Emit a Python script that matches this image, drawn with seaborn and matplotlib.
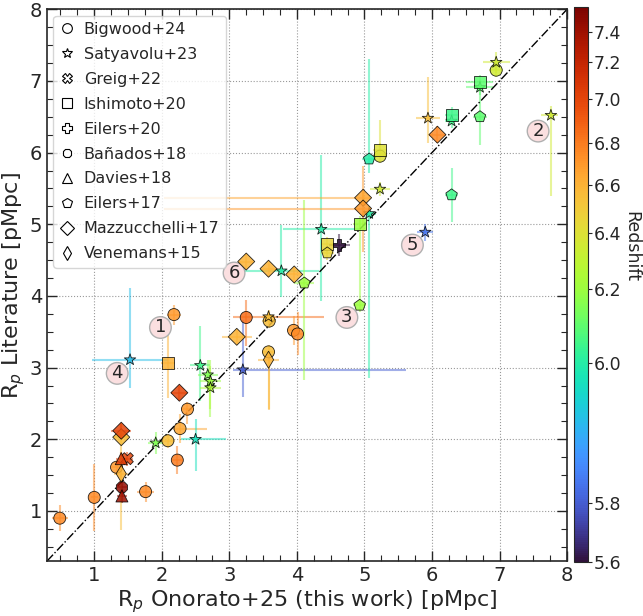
import numpy as np
import pandas as pd
import matplotlib
matplotlib.use("Agg")
import matplotlib.pyplot as plt
import seaborn as sns
from matplotlib.colors import FuncNorm
from matplotlib.lines import Line2D
from matplotlib.ticker import MultipleLocator

# ---- data ----
survey = (["Bigwood+24"] * 16 + ["Satyavolu+23"] * 19 + ["Greig+22"] * 1 + ["Ishimoto+20"] * 6
          + ["Eilers+20"] * 1 + ["Bañados+18"] * 1 + ["Davies+18"] * 2 + ["Eilers+17"] * 6
          + ["Mazzucchelli+17"] * 10 + ["Venemans+15"] * 2)

r_this = [0.49, 1.00, 1.76, 1.33, 2.09, 2.23, 2.27, 2.38, 2.18, 3.25, 3.59, 3.58, 3.95, 4.01, 5.23, 6.95,
          1.91, 1.53, 2.50, 2.57, 2.68, 2.72, 2.72, 3.20, 3.58, 3.77, 4.36, 5.07, 5.23, 5.94, 6.29, 6.71, 6.95, 7.76, 5.90,
          1.49,
          2.09, 4.45, 4.93, 5.23, 6.29, 6.71,
          4.63,
          1.41,
          1.40, 1.41,
          4.11, 4.45, 4.93, 5.07, 6.29, 6.71,
          1.40, 1.40, 2.26, 3.11, 3.25, 3.58, 3.96, 4.98, 4.98, 6.08,
          1.40, 3.58]
r_lit = [0.90, 1.19, 1.27, 1.61, 1.98, 1.71, 2.15, 2.42, 3.74, 3.70, 3.65, 3.22, 3.52, 3.47, 5.95, 7.15,
         1.95, 3.11, 2.00, 3.03, 2.90, 2.81, 2.72, 2.97, 3.71, 4.35, 4.93, 5.15, 5.49, 6.48, 6.44, 6.91, 7.26, 6.52, 4.89,
         1.73,
         3.07, 4.72, 5.01, 6.03, 6.53, 6.98,
         4.71,
         1.33,
         1.73, 1.21,
         4.18, 4.60, 3.87, 5.91, 5.41, 6.50,
         2.03, 2.12, 2.65, 3.43, 4.48, 4.38, 4.30, 5.37, 5.22, 6.25,
         1.52, 3.11]
x_lo = [0.12, 0.05, 0.12, 0.08, 0.10, 0.08, 0.10, 0.10, 0.10, 0.20, 0.10, 0.10, 0.10, 0.10, 0.10, 0.10,
        0.12, 0.56, 0.22, 0.15, 0.15, 0.15, 0.15, 0.14, 0.10, 0.54, 0.56, 0.10, 0.15, 0.18, 0.10, 0.20, 0.20, 0.15, 0.12,
        0.08,
        0.10, 0.10, 0.10, 0.10, 0.10, 0.20,
        0.15,
        0.08,
        0.08, 0.08,
        0.15, 0.10, 0.10, 0.10, 0.10, 0.10,
        0.10, 0.15, 0.12, 0.22, 0.10, 0.10, 0.10, 2.95, 2.95, 0.12,
        0.10, 0.15]
x_hi = [0.12, 0.05, 0.12, 0.08, 0.10, 0.08, 0.40, 0.10, 0.10, 1.15, 0.10, 0.10, 0.10, 0.10, 0.10, 0.10,
        0.12, 0.56, 0.45, 0.15, 0.15, 0.15, 0.15, 2.41, 0.10, 0.55, 0.56, 0.10, 0.15, 0.18, 0.10, 0.20, 0.20, 0.10, 0.12,
        0.08,
        0.10, 0.10, 0.10, 0.10, 0.10, 0.20,
        0.15,
        0.08,
        0.08, 0.08,
        0.15, 0.10, 0.10, 0.10, 0.10, 0.10,
        0.10, 0.15, 0.12, 0.22, 0.10, 0.10, 0.10, 0.10, 0.10, 0.12,
        0.10, 0.15]
y_lo = [0.18, 0.47, 0.14, 0.10, 0.10, 0.20, 0.20, 0.20, 0.14, 0.40, 0.10, 0.80, 0.20, 0.30, 0.10, 0.10,
        0.15, 0.40, 0.44, 0.50, 0.20, 0.50, 0.30, 0.38, 0.10, 0.36, 1.00, 2.30, 0.10, 0.34, 0.10, 0.10, 0.15, 1.13, 0.12,
        0.10,
        0.50, 0.10, 0.10, 0.10, 0.10, 0.10,
        0.15,
        0.10,
        0.10, 0.10,
        1.35, 0.10, 0.10, 0.20, 0.38, 0.39,
        1.30, 0.10, 0.10, 0.10, 0.10, 0.10, 0.10, 0.10, 0.60, 0.12,
        0.10, 0.70]
y_hi = [0.18, 0.47, 0.14, 0.10, 0.10, 0.20, 0.20, 0.10, 0.14, 0.25, 0.10, 0.10, 0.20, 0.30, 0.50, 0.10,
        0.15, 1.00, 0.29, 0.55, 0.20, 0.30, 0.30, 0.69, 0.10, 0.64, 1.04, 0.10, 0.10, 0.57, 0.10, 0.10, 0.15, 0.13, 0.12,
        0.10,
        0.50, 0.10, 0.10, 0.10, 0.10, 0.10,
        0.15,
        0.10,
        0.10, 0.10,
        1.16, 0.10, 1.19, 1.40, 0.38, 0.38,
        0.20, 0.10, 0.10, 0.10, 0.10, 0.10, 0.10, 0.10, 0.60, 0.12,
        0.10, 0.10]
redshift = [6.75, 6.75, 6.75, 6.70, 6.55, 6.80, 6.65, 6.70, 6.70, 6.85, 6.55, 6.55, 6.70, 6.75, 6.40, 6.35,
            6.15, 5.92, 5.97, 6.05, 6.15, 6.20, 6.25, 5.80, 6.55, 6.00, 6.00, 6.00, 6.35, 6.55, 6.05, 6.10, 6.35, 6.35, 5.83,
            7.00,
            6.60, 6.45, 6.20, 6.40, 6.05, 6.10,
            5.60,
            7.45,
            7.05, 7.40,
            6.20, 6.45, 6.20, 6.00, 6.05, 6.10,
            6.55, 7.00, 7.00, 6.60, 6.60, 6.60, 6.60, 6.65, 6.70, 6.75,
            6.60, 6.60]

surveys = ["Bigwood+24", "Satyavolu+23", "Greig+22", "Ishimoto+20", "Eilers+20",
           "Bañados+18", "Davies+18", "Eilers+17", "Mazzucchelli+17", "Venemans+15"]
markers = dict(zip(surveys, ["o", "*", "X", "s", "P", "8", "^", "p", "D", "d"]))

labels = ["1", "2", "3", "4", "5", "6"]
label_x = [1.98, 7.57, 4.74, 1.34, 5.71, 3.07]
label_y = [3.56, 6.30, 3.70, 2.92, 4.71, 4.32]

# colour scale of the redshift bar (tick values and where they sit on the bar)
cb_ticks = [5.6, 5.8, 6.0, 6.2, 6.4, 6.6, 6.8, 7.0, 7.2, 7.4, 7.55]
cb_frac = [0.0, 0.106, 0.359, 0.492, 0.593, 0.679, 0.755, 0.834, 0.901, 0.955, 1.0]

df = pd.DataFrame({"x": r_this, "y": r_lit, "xlo": x_lo, "xhi": x_hi,
                   "ylo": y_lo, "yhi": y_hi, "z": redshift, "survey": survey})

norm = FuncNorm((lambda v: np.interp(v, cb_ticks, cb_frac),
                 lambda f: np.interp(f, cb_frac, cb_ticks)), vmin=5.6, vmax=7.55)
cmap = plt.get_cmap("turbo")

sns.set_style("ticks")
plt.rcParams["font.family"] = ["DejaVu Sans"]

fig = plt.figure(figsize=(6.43, 6.16), dpi=100)
ax = fig.add_axes([0.073, 0.089, 0.809, 0.896])
cax = fig.add_axes([0.893, 0.088, 0.0215, 0.901])

for _, r in df.iterrows():
    ax.errorbar(r.x, r.y, xerr=[[r.xlo], [r.xhi]], yerr=[[r.ylo], [r.yhi]], fmt="none",
                ecolor=cmap(norm(r.z)), alpha=0.5, lw=1.5, zorder=1)

sns.scatterplot(data=df, x="x", y="y", hue="z", hue_norm=norm, palette="turbo",
                style="survey", markers=markers, s=75, edgecolor="k", linewidth=0.6,
                alpha=0.85, legend=False, ax=ax, zorder=3)

ax.plot([0.3, 8], [0.3, 8], color="k", ls="-.", lw=1, zorder=2)

for t, lx, ly in zip(labels, label_x, label_y):
    ax.text(lx, ly, t, ha="center", va="center", fontsize=13, zorder=2.5,
            bbox=dict(boxstyle="circle,pad=0.1", fc="#fbdfe0", ec="#b0b0b0", lw=1))

ax.set_xlim(0.3, 8)
ax.set_ylim(0.3, 8)
ax.xaxis.set_major_locator(MultipleLocator(1))
ax.yaxis.set_major_locator(MultipleLocator(1))
ax.xaxis.set_minor_locator(MultipleLocator(0.25))
ax.yaxis.set_minor_locator(MultipleLocator(0.25))
ax.tick_params(which="both", direction="in", top=True, right=True, labelsize=14)
ax.tick_params(which="major", length=7, width=1)
ax.tick_params(which="minor", length=4, width=0.8)
ax.grid(True, which="major", ls=":", color="gray", lw=0.8, alpha=0.8)
for s in ax.spines.values():
    s.set_linewidth(1.2)
ax.set_xlabel("R$_p$ Onorato+25 (this work) [pMpc]", fontsize=16, labelpad=2)
ax.set_ylabel("R$_p$ Literature [pMpc]", fontsize=16, labelpad=2)

handles = [Line2D([], [], ls="none", marker=markers[s], mfc="white", mec="k", mew=0.8,
                  markersize=7, label=s) for s in surveys]
ax.legend(handles=handles, loc="upper left", fontsize=11.5, frameon=True, framealpha=0.8,
          edgecolor="#cccccc", borderpad=0.4, handletextpad=0.6, handlelength=0.9,
          labelspacing=0.62, borderaxespad=0.4)

sm = plt.cm.ScalarMappable(norm=norm, cmap=cmap)
cb = fig.colorbar(sm, cax=cax)
cb.set_ticks(cb_ticks[:-1])
cb.ax.tick_params(labelsize=12.5, length=3, pad=1)
fig.text(0.968, 0.60, "Redshift", rotation=270, ha="left", va="center", fontsize=12.5)

fig.savefig("out.png", dpi=100)
